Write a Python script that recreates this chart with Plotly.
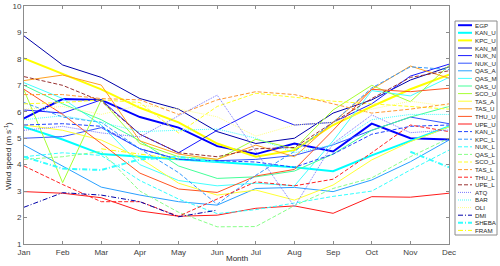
import plotly.graph_objects as go

months = ["Jan", "Feb", "Mar", "Apr", "May", "Jun", "Jul", "Aug", "Sep", "Oct", "Nov", "Dec"]
N = None

EGP   = [5.75, 6.48, 6.45, 5.80, 5.40, 4.70, 4.40, 4.80, 4.50, 5.55, 5.00, 4.95]
KAN_U = [5.43, 4.95, 4.40, 4.30, 4.20, 4.10, 4.00, 3.90, 3.75, 4.35, 4.90, 5.45]
KPC_U = [8.02, 7.45, 6.85, 6.15, 5.60, 4.80, 4.30, 4.55, 5.50, 6.20, 6.85, 7.40]
KAN_M = [8.87, 7.77, 7.30, 6.50, 6.10, 5.25, 4.80, 5.00, 5.95, 6.45, 7.20, 7.70]
NUK_N = [6.07, 5.95, 6.45, 5.15, 4.45, 5.30, 6.05, 5.50, 5.60, 6.30, 7.35, 7.80]
NUK_U = [5.00, 5.06, 5.40, 4.60, 4.20, 4.15, 4.20, 4.35, 4.75, 5.30, 5.80, 5.55]
QAS_A = [4.74, 3.95, 3.15, 2.85, 2.60, 2.47, 3.10, 3.14, 2.98, 3.42, 4.11, 4.93]
QAS_M = [7.10, 6.50, 5.50, 4.00, 3.40, 3.20, 3.30, 3.20, 4.90, 6.80, 6.60, 7.30]
QAS_U = [7.00, 6.30, 5.70, 4.90, 3.95, 3.48, 3.54, 3.76, 4.40, 5.30, 5.80, 6.20]
SCO_U = [6.82, 3.32, 6.45, 4.80, 4.30, 4.20, 4.96, 4.60, 6.07, 7.00, 6.38, 7.75]
TAS_A = [5.50, 5.30, 4.93, 4.25, 3.30, 2.85, 3.04, 2.66, 3.23, 4.18, 4.87, 5.43]
TAS_U = [7.18, 7.39, 7.01, 4.90, 4.40, 4.20, 4.74, 4.30, 5.60, 6.85, 7.73, 7.27]
THU_U = [6.85, 5.90, 4.80, 3.68, 3.08, 2.95, 3.57, 3.82, 5.30, 6.85, 6.76, 6.89]
UPE_U = [2.98, 2.92, 2.75, 2.25, 2.05, 2.09, 2.35, 2.44, 2.16, 2.79, 2.77, 2.92]
KAN_L = [5.50, 5.55, 5.45, 4.60, 4.20, 4.15, 4.10, 3.90, 4.40, 5.15, 5.45, 5.50]
KPC_L = [6.35, 5.80, 5.60, 4.60, 3.70, 2.50, 3.60, 4.50, 5.60, 6.90, 7.70, 7.60]
NUK_L = [4.30, 4.45, 4.35, 3.40, 2.70, 2.15, 2.30, 2.55, 2.80, 3.00, 3.80, 4.55]
QAS_L = [4.20, 4.30, 4.50, 3.00, 2.20, 1.65, 1.66, 2.45, 3.10, 3.50, 4.30, 5.00]
SCO_L = [6.30, 6.35, 6.45, 6.35, 5.20, 6.20, 6.70, 6.55, 6.40, 6.30, 6.20, 6.10]
TAS_L = [6.65, 6.65, 6.50, 6.45, 5.90, 6.45, 6.76, 6.65, 6.30, 5.95, 6.10, 6.30]
THU_L = [3.95, 3.25, 2.60, 2.60, 2.05, 2.70, 3.35, 3.20, 3.45, 4.45, 5.50, 5.25]
UPE_L = [7.33, 7.00, 6.40, 5.15, 4.45, 4.30, 4.60, 4.65, 5.60, 6.50, 7.30, 7.55]
ATQ   = [5.30, 5.45, 5.20, 5.05, 5.85, 6.63, 4.50, 2.41, 4.80, 5.88, 5.21, 5.31]
BAR   = [5.70, 5.85, 5.60, 5.25, 5.30, 5.35, 5.00, 4.45, 4.75, 5.70, 5.90, 5.90]
OLI   = [6.10, 6.20, 5.90, 6.25, 6.10, 5.81, 5.08, 5.50, 5.60, 6.10, 6.40, 6.20]
DMI   = [2.39, 2.94, 2.85, 2.60, 2.03, 2.28, N, N, N, N, N, N]
SHEBA = [4.30, 3.85, 3.80, 4.20, 4.30, 4.10, N, N, N, N, 4.49, 3.90]
FRAM  = [N, N, 4.60, 4.40, 4.20, N, N, N, N, N, N, N]

series = [
    ("EGP", EGP, "#0000ff", 2, "solid"),
    ("KAN_U", KAN_U, "#00ffff", 2, "solid"),
    ("KPC_U", KPC_U, "#ffff00", 2, "solid"),
    ("KAN_M", KAN_M, "#0000a8", 1, "solid"),
    ("NUK_N", NUK_N, "#1a1aff", 1, "solid"),
    ("NUK_U", NUK_U, "#3355ff", 1, "solid"),
    ("QAS_A", QAS_A, "#2aa0ff", 1, "solid"),
    ("QAS_M", QAS_M, "#44ffff", 1, "solid"),
    ("QAS_U", QAS_U, "#44ff99", 1, "solid"),
    ("SCO_U", SCO_U, "#a6ff33", 1, "solid"),
    ("TAS_A", TAS_A, "#ffff33", 1, "solid"),
    ("TAS_U", TAS_U, "#ffa020", 1, "solid"),
    ("THU_U", THU_U, "#ff5522", 1, "solid"),
    ("UPE_U", UPE_U, "#ff1a1a", 1, "solid"),
    ("KAN_L", KAN_L, "#2244ff", 1, "4px,2px"),
    ("KPC_L", KPC_L, "#3399ff", 1, "4px,2px"),
    ("NUK_L", NUK_L, "#33ffff", 1, "4px,2px"),
    ("QAS_L", QAS_L, "#88ff88", 1, "4px,2px"),
    ("SCO_L", SCO_L, "#ffff22", 1, "4px,2px"),
    ("TAS_L", TAS_L, "#ff9933", 1, "4px,2px"),
    ("THU_L", THU_L, "#ff2222", 1, "4px,2px"),
    ("UPE_L", UPE_L, "#993333", 1, "4px,2px"),
    ("ATQ", ATQ, "#7777ff", 1, "1px,1px"),
    ("BAR", BAR, "#44ffff", 1, "1px,1px"),
    ("OLI", OLI, "#ffff88", 1, "1px,1px"),
    ("DMI", DMI, "#0000a8", 1, "5px,2px,1px,2px"),
    ("SHEBA", SHEBA, "#33ffff", 2, "5px,2px,1px,2px"),
    ("FRAM", FRAM, "#ffff00", 1, "5px,2px,1px,2px"),
]

fig = go.Figure()
for name, vals, col, w, dash in series:
    fig.add_trace(go.Scatter(x=months, y=vals, mode="lines", name=name,
                             line=dict(color=col, width=w, dash=dash),
                             connectgaps=False, showlegend=False))

# plot area in pixels
L, R, T, B = 24, 449, 6, 244
W, H = 500, 266

def px2x(px):
    return (px - L) / (R - L)

def py2y(py):
    return (B - py) / (B - T)

shapes = []
annotations = []
# legend box
shapes.append(dict(type="rect", xref="paper", yref="paper",
                   x0=px2x(455), x1=px2x(497), y0=py2y(235), y1=py2y(21),
                   line=dict(color="#8c8c8c", width=1), fillcolor="white", layer="above"))
for i, (name, vals, col, w, dash) in enumerate(series):
    yy = 25.2 + i * 7.6
    shapes.append(dict(type="line", xref="paper", yref="paper",
                       x0=px2x(458), x1=px2x(472), y0=py2y(yy), y1=py2y(yy),
                       line=dict(color=col, width=w, dash=dash), layer="above"))
    annotations.append(dict(xref="paper", yref="paper", x=px2x(473.5), y=py2y(yy),
                            text=name, showarrow=False, xanchor="left", yanchor="middle",
                            borderpad=0, font=dict(size=6.2, color="#262626")))

annotations.append(dict(xref="paper", yref="paper", x=px2x(8), y=py2y(156),
                        text="Wind speed (m s<sup>-1</sup>)", textangle=-90, showarrow=False,
                        xanchor="center", yanchor="middle", borderpad=0,
                        font=dict(size=8, color="#262626")))
annotations.append(dict(xref="paper", yref="paper", x=px2x(237), y=py2y(258),
                        text="Month", showarrow=False, xanchor="center", yanchor="middle",
                        borderpad=0, font=dict(size=8, color="#262626")))

fig.update_layout(
    width=W, height=H,
    margin=dict(l=L, r=W - R, t=T, b=H - B, pad=0, autoexpand=False),
    paper_bgcolor="white", plot_bgcolor="white",
    font=dict(family="Liberation Sans, Arial, sans-serif", size=8, color="#262626"),
    showlegend=False,
    shapes=shapes, annotations=annotations,
    xaxis=dict(type="category", range=[0, 11], showgrid=False, zeroline=False,
               automargin=False,
               showline=True, linecolor="#8c8c8c", linewidth=1, mirror="ticks",
               ticks="inside", ticklen=3, tickcolor="#8c8c8c",
               tickfont=dict(size=8, color="#404040")),
    yaxis=dict(range=[1, 10], dtick=1, showgrid=False, zeroline=False,
               automargin=False,
               showline=True, linecolor="#8c8c8c", linewidth=1, mirror="ticks",
               ticks="inside", ticklen=3, tickcolor="#8c8c8c",
               tickfont=dict(size=8, color="#404040")),
)

fig.write_html("out.html", config={"displayModeBar": False},
               post_script="document.body.style.margin='0';document.body.style.overflow='hidden';")
